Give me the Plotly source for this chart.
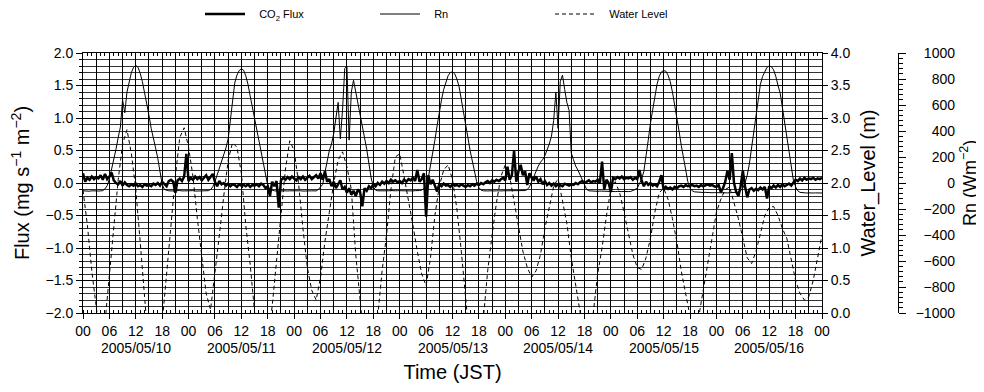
import pandas as pd
import plotly.graph_objects as go

# ---------------- data ----------------
hour_labels = ["00", "06", "12", "18"]
date_labels = ["2005/05/10", "2005/05/11", "2005/05/12", "2005/05/13",
               "2005/05/14", "2005/05/15", "2005/05/16"]

# CO2 flux (mg s-1 m-2), 30-min values, one list per day
flux_d10 = [0.15, 0.02, 0.08, 0.05, 0.10, 0.06, 0.09, 0.07, 0.12, 0.05, 0.14, 0.06,
            0.10, 0.16, 0.04, 0.00, -0.02, 0.03, -0.04, 0.01, -0.03, -0.05, -0.02, -0.04,
            -0.01, -0.05, -0.03, -0.06, -0.02, -0.04, -0.03, -0.05, -0.01, -0.03, 0.00, -0.04,
            0.02, -0.02, -0.05, 0.03, 0.05, 0.02, -0.15, 0.04, 0.07, 0.03, 0.10, 0.45]
flux_d11 = [0.03, 0.08, 0.05, 0.10, 0.06, 0.09, 0.04, 0.08, 0.12, 0.05, 0.10, 0.14,
            0.02, -0.05, 0.03, -0.02, 0.00, -0.04, -0.01, -0.05, -0.02, -0.03, -0.06, -0.02,
            -0.04, -0.03, -0.05, -0.02, -0.06, -0.03, -0.04, -0.02, -0.05, -0.01, -0.03, -0.08,
            -0.05, -0.20, 0.02, -0.05, 0.03, -0.38, 0.04, 0.08, 0.05, 0.09, 0.06, 0.10]
flux_d12 = [0.07, 0.04, 0.09, 0.06, 0.10, 0.05, 0.08, 0.11, 0.06, 0.09, 0.12, 0.07,
            0.15, 0.05, 0.18, 0.02, 0.06, -0.05, 0.02, -0.08, -0.03, 0.04, -0.10, -0.06,
            -0.15, -0.08, -0.18, -0.12, -0.20, -0.10, -0.14, -0.36, -0.08, -0.12, -0.05, -0.08,
            -0.02, -0.05, 0.00, -0.03, 0.02, -0.01, 0.03, 0.00, 0.05, 0.02, 0.04, 0.01]
flux_d13 = [0.03, 0.00, 0.05, 0.02, 0.06, 0.04, 0.08, 0.03, 0.20, 0.02, 0.06, 0.15,
            -0.52, 0.12, -0.02, 0.05, -0.04, -0.13, -0.02, -0.05, -0.01, -0.04, -0.03, -0.06,
            -0.02, -0.04, -0.03, -0.05, -0.02, -0.04, -0.06, -0.03, -0.05, -0.02, -0.04, -0.01,
            -0.03, 0.00, -0.02, 0.01, 0.03, 0.00, 0.04, 0.02, 0.05, 0.03, 0.06, 0.08]
flux_d14 = [0.04, 0.25, 0.05, 0.12, 0.50, 0.02, 0.18, 0.28, 0.12, 0.18, -0.03, 0.15,
            0.08, 0.05, 0.10, 0.02, 0.06, -0.02, 0.03, -0.03, 0.00, -0.04, -0.01, -0.05,
            -0.02, -0.03, -0.05, -0.01, -0.03, -0.04, -0.02, -0.03, 0.00, -0.02, 0.01, 0.03,
            0.00, 0.02, 0.04, 0.01, 0.03, 0.02, 0.05, 0.00, 0.33, -0.10, 0.05, 0.00]
flux_d15 = [-0.14, 0.08, 0.06, 0.09, 0.07, 0.10, 0.06, 0.08, 0.07, 0.09, 0.05, 0.08,
            0.06, 0.20, 0.04, -0.05, 0.02, -0.03, 0.00, -0.04, -0.02, -0.05, 0.02, 0.12,
            -0.10, -0.06, -0.09, -0.07, -0.10, -0.06, -0.08, -0.05, -0.04, -0.06, -0.03, -0.05,
            -0.04, -0.03, -0.05, -0.04, -0.06, -0.03, -0.05, -0.04, -0.02, -0.04, -0.03, -0.05]
flux_d16 = [-0.06, -0.03, -0.14, -0.08, 0.02, 0.19, 0.05, 0.46, 0.00, -0.14, -0.20, -0.05,
            0.19, -0.05, -0.22, -0.10, -0.08, -0.12, -0.09, -0.11, -0.07, -0.10, -0.06, -0.24,
            -0.05, -0.08, -0.04, -0.07, -0.03, -0.06, -0.02, -0.05, -0.03, -0.01, -0.04, 0.00,
            0.05, 0.03, 0.07, 0.04, 0.08, 0.05, 0.07, 0.06, 0.08, 0.05, 0.07, 0.06, 0.08]

# Net radiation Rn (W m-2), 30-min values
rn_d10 = [-60, -62, -61, -63, -60, -58, -61, -62, -60, -59, -45, -20,
          30, 100, 190, 260, 350, 430, 640, 540, 700, 790, 850, 890, 905, 890, 845, 780,
          700, 610, 520, 420, 330, 270, 190, 90, -10, -50,
          -58, -60, -61, -59, -62, -60, -58, -61, -60, -59]
rn_d11 = [-60, -61, -59, -62, -60, -58, -61, -60, -62, -59, -50,
          -30, 10, 60, 110, 160, 210, 270, 340, 470, 620, 770, 830, 865, 880, 868, 825,
          760, 670, 580, 490, 420, 320, 220, 140, 50, -20, -50,
          -58, -60, -62, -59, -61, -60, -58, -61, -60, -59]
rn_d12 = [-60, -59, -61, -60, -62, -60, -58, -61, -60, -59, -61, -50, -30,
          -10, 80, 180, 250, 300, 380, 500, 620, 340, 560, 880, 900, 330, 700, 790,
          700, 620, 540, 460, 360, 260, 150, 40, -30, -55,
          -60, -61, -59, -60, -62, -60, -58, -61, -60, -59]
rn_d13 = [-60, -61, -59, -60, -62, -60, -61, -59, -60, -58, -55, -45,
          -30, 40, 130, 220, 330, 440, 560, 640, 720, 780, 825, 850, 855, 840, 800, 740,
          650, 540, 450, 350, 250, 160, 80, 10, -35, -55,
          -60, -62, -61, -60, -63, -61, -60, -62, -61, -60]
rn_d14 = [-60, -61, -60, -62, -59, -60, -61, -60, -62, -58, -50,
          -30, 10, 50, 100, 130, 160, 180, 210, 250, 300, 360, 480, 700, 420, 780, 830,
          720, 620, 560, 230, 180, 130, 100, 60, 20, -20, -50,
          -60, -62, -63, -61, -64, -62, -63, -65, -64, -63]
rn_d15 = [-65, -64, -66, -65, -67, -66, -65, -67, -66, -65, -60, -50,
          -40, -10, 30, 90, 200, 330, 460, 570, 680, 760, 820, 855, 865, 860, 830, 780,
          700, 610, 510, 400, 290, 190, 80, 10, -40, -60,
          -68, -70, -72, -71, -73, -72, -74, -73, -75, -74]
rn_d16 = [-75, -74, -76, -75, -77, -76, -75, -74, -76, -75, -70, -60,
          -40, 0, 60, 150, 280, 400, 540, 660, 760, 820, 860, 890, 900, 895, 870, 820,
          750, 690, 580, 470, 360, 240, 120, 20, -30, -60,
          -72, -75, -76, -77, -76, -78, -77, -76, -78, -77, -77]

# Water level (m), hourly values
wl_d10 = [1.89, 1.35, 0.65, 0.05, -0.45, -0.15, 0.55, 1.25, 2.05, 2.6, 2.82, 2.45,
          1.9, 1.1, 0.1, -0.6, -1.0, -0.8, -0.15, 0.6, 1.35, 2.1, 2.7, 2.85]
wl_d11 = [2.55, 2.1, 1.45, 0.85, 0.3, 0.05, 0.6, 1.2, 1.8, 2.35, 2.62, 2.55,
          2.15, 1.35, 0.75, -0.1, -0.7, -0.8, -0.4, 0.1, 0.85, 1.5, 2.2, 2.65]
wl_d12 = [2.5, 2.0, 1.3, 0.7, 0.35, 0.2, 0.55, 1.1, 1.55, 2.0, 2.35, 2.48,
          2.25, 1.9, 0.9, 0.15, -0.5, -0.8, -0.6, -0.05, 0.65, 1.2, 1.9, 2.4]
wl_d13 = [2.45, 2.1, 1.75, 1.35, 0.95, 0.6, 0.42, 0.85, 1.5, 1.95, 2.2, 2.28,
          2.05, 1.6, 0.95, 0.15, -0.5, -0.8, -0.6, -0.1, 0.65, 1.2, 1.7, 2.1]
wl_d14 = [2.28, 2.1, 1.7, 1.3, 0.95, 0.7, 0.55, 0.65, 0.9, 1.3, 1.65, 1.95,
          2.07, 1.75, 1.38, 0.85, 0.4, -0.05, -0.4, -0.3, 0.0, 0.6, 1.0, 1.5]
wl_d15 = [1.9, 2.02, 1.85, 1.55, 1.25, 0.9, 0.7, 0.67, 0.85, 1.15, 1.55, 1.85,
          1.92, 1.75, 1.45, 1.1, 0.65, 0.3, -0.05, -0.25, -0.05, 0.35, 0.75, 1.15]
wl_d16 = [1.55, 1.75, 1.9, 1.94, 1.7, 1.45, 1.15, 0.85, 0.76, 0.95, 1.22, 1.5,
          1.62, 1.64, 1.5, 1.3, 1.15, 0.8, 0.5, 0.3, 0.2, 0.25, 0.5, 0.85, 1.2]

flux = flux_d10 + flux_d11 + flux_d12 + flux_d13 + flux_d14 + flux_d15 + flux_d16
rn = rn_d10 + rn_d11 + rn_d12 + rn_d13 + rn_d14 + rn_d15 + rn_d16
wl = wl_d10 + wl_d11 + wl_d12 + wl_d13 + wl_d14 + wl_d15 + wl_d16

t_half = pd.date_range("2005-05-10 00:00", periods=len(flux), freq="30min")
t_hour = pd.date_range("2005-05-10 00:00", periods=len(wl), freq="h")

tick_vals = pd.date_range("2005-05-10 00:00", "2005-05-17 00:00", freq="6h")
tick_text = [hour_labels[i % 4] for i in range(len(tick_vals))]
date_pos = pd.date_range("2005-05-10 12:00", periods=len(date_labels), freq="D")

# ---------------- figure ----------------
# the page body has an 8px margin, so the figure is drawn 8px smaller and shifted
OFF = 8
FONT = "Liberation Sans, Arial, sans-serif"
W, H = 984 - OFF, 392 - OFF
ML, MR, MT = 83 - OFF, 4, 53 - OFF
MB = H - (313 - OFF)
PW = W - ML - MR
PH = H - MT - MB
x_end = (822 - 83) / PW
rn_line_pos = (898 - 83) / PW
rn_lab_pos = (955 - 83) / PW
x_range = ["2005-05-10 00:00", "2005-05-17 00:00"]
NB = "\u00a0\u00a0\u00a0"

fig = go.Figure()
fig.add_trace(go.Scatter(x=t_half, y=flux, name=NB + "CO<sub>2</sub> Flux", mode="lines",
                         line=dict(color="black", width=2.5), xaxis="x", yaxis="y"))
fig.add_trace(go.Scatter(x=t_half, y=rn, name=NB + "Rn", mode="lines",
                         line=dict(color="black", width=1), xaxis="x", yaxis="y3"))
fig.add_trace(go.Scatter(x=t_hour, y=wl, name=NB + "Water Level", mode="lines",
                         line=dict(color="black", width=1, dash="4px,3px"),
                         xaxis="x", yaxis="y2"))
# empty helper traces so the overlay axes (grid / ticks / labels) are drawn
for xa, ya in [("x2", "y"), ("x3", "y"), ("x", "y4")]:
    fig.add_trace(go.Scatter(x=[None], y=[None], xaxis=xa, yaxis=ya, mode="lines",
                             showlegend=False, hoverinfo="skip"))

axis_common = dict(zeroline=False, linecolor="black", linewidth=1, tickcolor="black",
                   tickfont=dict(family=FONT, size=14, color="black"))

annotations = [dict(text=d, x=p, xref="x", y=-(348 - 313) / PH, yref="paper",
                    xanchor="center", yanchor="middle", showarrow=False, borderpad=0,
                    font=dict(family=FONT, size=14, color="black"))
               for d, p in zip(date_labels, date_pos)]
annotations.append(dict(text="Rn (Wm<sup>−2</sup>)", xref="paper", yref="paper",
                        x=(968 - 83) / PW, y=0.5, xanchor="center", yanchor="middle",
                        textangle=-90, showarrow=False, borderpad=0,
                        font=dict(family=FONT, size=18, color="black")))

fig.update_layout(
    width=W, height=H,
    margin=dict(l=ML, r=MR, t=MT, b=MB, autoexpand=False),
    paper_bgcolor="white", plot_bgcolor="white",
    font=dict(family=FONT, color="black"),
    showlegend=True,
    legend=dict(orientation="h", x=(200 - 83) / PW, xanchor="left",
                y=(313 - 14) / PH, yanchor="middle",
                font=dict(family=FONT, size=11, color="black"),
                itemwidth=40, entrywidth=120, bgcolor="rgba(0,0,0,0)"),
    xaxis=dict(type="date", range=x_range, domain=[0, x_end], anchor="y",
               tickmode="array", tickvals=list(tick_vals), ticktext=tick_text,
               tickangle=0, ticks="outside", ticklen=5, showline=True, mirror=True,
               showgrid=True, gridcolor="black", gridwidth=1,
               minor=dict(dtick=3600000, ticks="inside", ticklen=3, tickcolor="black",
                          showgrid=False),
               title=dict(text="Time (JST)", font=dict(family=FONT, size=20), standoff=27),
               **axis_common),
    xaxis2=dict(type="date", range=x_range, domain=[0, x_end], anchor="y",
                overlaying="x", side="bottom", tick0="2005-05-10", dtick=3 * 3600000,
                showgrid=True, gridcolor="black", gridwidth=1, ticks="",
                showticklabels=False, showline=False, zeroline=False),
    xaxis3=dict(type="date", range=x_range, domain=[0, x_end], anchor="y",
                overlaying="x", side="top", tick0="2005-05-10", dtick=3600000,
                ticks="inside", ticklen=3, tickcolor="black", showgrid=False,
                showticklabels=False, showline=False, zeroline=False),
    yaxis=dict(range=[-2, 2], domain=[0, 1], anchor="x", tick0=0, dtick=0.5,
               tickformat=".1f", ticks="outside", ticklen=6, showline=True,
               showgrid=True, gridcolor="black", gridwidth=1,
               minor=dict(dtick=0.1, ticks="outside", ticklen=3, tickcolor="black",
                          showgrid=True, gridcolor="#333333", gridwidth=1),
               title=dict(text="Flux (mg s<sup>−1</sup> m<sup>−2</sup>)",
                          font=dict(family=FONT, size=20), standoff=11),
               **axis_common),
    yaxis2=dict(range=[0, 4], overlaying="y", side="right", anchor="x", tick0=0,
                dtick=0.5, tickformat=".1f", ticks="outside", ticklen=5,
                showline=True, showgrid=False,
                title=dict(text="Water_Level (m)", font=dict(family=FONT, size=20),
                           standoff=11),
                **axis_common),
    yaxis3=dict(range=[-1000, 1000], overlaying="y", side="right", anchor="free",
                position=rn_line_pos, tick0=0, dtick=200, ticks="outside", ticklen=7,
                showline=True, showgrid=False, showticklabels=False,
                minor=dict(dtick=40, ticks="outside", ticklen=4, tickcolor="black"),
                **axis_common),
    yaxis4=dict(range=[-1000, 1000], overlaying="y", side="left", anchor="free",
                position=rn_lab_pos, tick0=0, dtick=200, ticks="", tickformat="d",
                showline=False, showgrid=False, zeroline=False,
                tickfont=dict(family=FONT, size=14, color="black")),
    annotations=annotations,
)

fig.write_html("out.html")
